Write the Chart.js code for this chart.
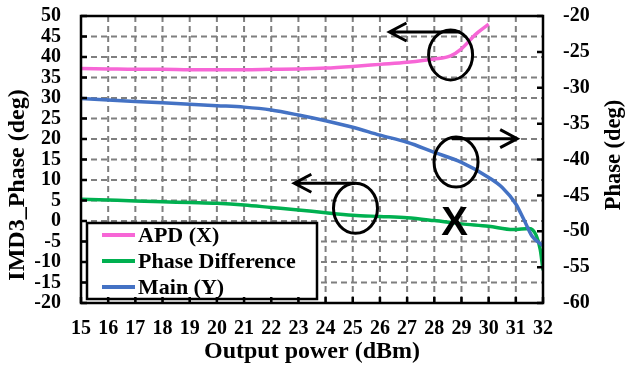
<!DOCTYPE html>
<html lang="en">
<head>
    <meta charset="UTF-8">
    <title>IMD3 Phase vs Output Power</title>
    <script src="https://cdn.jsdelivr.net/npm/chart.js@4.4.0/dist/chart.umd.min.js"></script>
    <style>
        html, body { margin: 0; padding: 0; background: #fff; }
    </style>
</head>
<body>
    <canvas id="chart" width="625" height="369"></canvas>

    <script>
        // x axis: output power (dBm)
        const powerMin = 15;
        const powerMax = 32;

        // APD (X) - left axis
        const apdX = [15, 16, 17, 18, 19, 20, 21, 22, 23, 24, 25, 26, 27, 28, 28.6, 29, 29.5, 30];
        const apdY = [37.2, 37.1, 37.0, 37.0, 36.9, 36.9, 36.9, 37.0, 37.1, 37.3, 37.7, 38.2, 38.7, 39.5, 40.3, 42.0, 45.4, 48.0];

        // Phase Difference - left axis
        const diffX = [15, 16, 17, 18, 19, 20, 21, 22, 23, 24, 25, 26, 27, 28, 29, 30, 30.9, 31.5, 31.75, 31.9, 32];
        const diffY = [5.3, 5.1, 4.9, 4.7, 4.5, 4.3, 3.9, 3.3, 2.7, 2.0, 1.4, 1.1, 0.8, 0.1, -0.7, -1.3, -2.1, -1.8, -3.5, -7.0, -12.0];

        // Main (Y) - right axis
        const mainX = [15, 16, 17, 18, 19, 20, 21, 22, 23, 24, 25, 26, 27, 28, 29, 30, 30.5, 31, 31.3, 31.6, 32];
        const mainY = [-31.5, -31.7, -31.9, -32.1, -32.3, -32.5, -32.7, -33.1, -33.8, -34.6, -35.5, -36.6, -37.6, -39.0, -40.4, -42.5, -43.9, -46.2, -48.4, -50.7, -52.0];

        // axis ranges
        const leftMin = -20, leftMax = 50;
        const rightMin = -60, rightMax = -20;

        // hand drawn marks (data units): circles and arrows
        const ringX = [28.6, 28.8, 25.1];
        const ringY = [40.5, -40.35, 3.1];
        const ringAxis = ['y', 'y2', 'y'];
        const arrowFrom = [28.95, 28.65, 25.1];
        const arrowTo = [26.35, 31.05, 22.85];
        const arrowY = [46.1, -37.1, 9.2];
        const crossX = 28.75, crossY = -0.3;

        const serif = "'Liberation Serif', 'Times New Roman', serif";

        const pts = (xs, ys) => xs.map((v, i) => ({ x: v, y: ys[i] }));

        // dashes drawn by hand (6 on, 4 off)
        function dashLine(ctx, x0, y0, x1, y1) {
            const len = Math.hypot(x1 - x0, y1 - y0);
            const ux = (x1 - x0) / len, uy = (y1 - y0) / len;
            for (let d = 0; d < len; d += 10) {
                const e = Math.min(d + 6, len);
                ctx.moveTo(x0 + ux * d, y0 + uy * d);
                ctx.lineTo(x0 + ux * e, y0 + uy * e);
            }
        }

        const decor = {
            id: 'decor',
            beforeDatasetsDraw(chart) {
                const { ctx, chartArea: a, scales: { x, y } } = chart;
                ctx.save();
                ctx.setLineDash([]);
                ctx.globalAlpha = 1;
                ctx.strokeStyle = '#7f7f7f';
                ctx.lineWidth = 2;
                ctx.beginPath();
                for (let v = powerMin + 1; v < powerMax; v++) {
                    const px = x.getPixelForValue(v);
                    dashLine(ctx, px, a.top, px, a.bottom);
                }
                for (let v = leftMin + 5; v < leftMax; v += 5) {
                    const py = y.getPixelForValue(v);
                    dashLine(ctx, a.left, py, a.right, py);
                }
                ctx.stroke();
                ctx.restore();
            },
            afterDatasetsDraw(chart) {
                const { ctx, chartArea: a, scales } = chart;
                const { x, y, y2 } = scales;
                ctx.save();

                // legend box
                const lx = a.left + 6, ly = a.bottom - 80, lw = 230, lh = 76;
                ctx.fillStyle = '#fff';
                ctx.fillRect(lx, ly, lw, lh);
                ctx.lineWidth = 2.5;
                ctx.strokeStyle = '#000';
                ctx.strokeRect(lx, ly, lw, lh);
                ctx.font = 'bold 22px ' + serif;
                ctx.textBaseline = 'middle';
                ctx.textAlign = 'left';
                chart.data.datasets.forEach((ds, i) => {
                    const ry = ly + 12 + i * 26;
                    ctx.strokeStyle = ds.borderColor;
                    ctx.lineWidth = 4;
                    ctx.beginPath();
                    ctx.moveTo(lx + 15, ry);
                    ctx.lineTo(lx + 48, ry);
                    ctx.stroke();
                    ctx.fillStyle = '#000';
                    ctx.fillText(ds.label, lx + 51, ry + 1);
                });

                // frame
                ctx.strokeStyle = '#000';
                ctx.lineWidth = 2.5;
                ctx.strokeRect(a.left, a.top, a.right - a.left, a.bottom - a.top);

                // inward tick marks
                ctx.beginPath();
                for (let v = leftMin; v <= leftMax; v += 5) {
                    const py = y.getPixelForValue(v);
                    ctx.moveTo(a.left, py); ctx.lineTo(a.left + 6, py);
                }
                for (let v = rightMin; v <= rightMax; v += 5) {
                    const py = y2.getPixelForValue(v);
                    ctx.moveTo(a.right, py); ctx.lineTo(a.right - 6, py);
                }
                for (let v = powerMin; v <= powerMax; v += 1) {
                    const px = x.getPixelForValue(v);
                    ctx.moveTo(px, a.bottom); ctx.lineTo(px, a.bottom - 6);
                }
                ctx.stroke();

                // circles + arrows
                ctx.lineWidth = 3;
                ringX.forEach((rx, i) => {
                    const sc = scales[ringAxis[i]];
                    const cx = x.getPixelForValue(rx), cy = sc.getPixelForValue(ringY[i]);
                    ctx.beginPath();
                    ctx.ellipse(cx, cy, 22, 25, 0, 0, Math.PI * 2);
                    ctx.stroke();
                    const ay = sc.getPixelForValue(arrowY[i]);
                    const x0 = x.getPixelForValue(arrowFrom[i]);
                    const x1 = x.getPixelForValue(arrowTo[i]);
                    const dir = x1 > x0 ? -1 : 1;
                    ctx.beginPath();
                    ctx.moveTo(x0, ay); ctx.lineTo(x1, ay);
                    ctx.moveTo(x1 + dir * 17, ay - 9); ctx.lineTo(x1, ay); ctx.lineTo(x1 + dir * 17, ay + 9);
                    ctx.stroke();
                });

                // X mark
                ctx.fillStyle = '#000';
                ctx.font = 'bold 40px "Liberation Sans", Arial, sans-serif';
                ctx.textAlign = 'center';
                ctx.textBaseline = 'middle';
                ctx.fillText('X', x.getPixelForValue(crossX), y.getPixelForValue(crossY) + 2);

                // vertical axis titles
                ctx.font = 'bold 24px ' + serif;
                ctx.save();
                ctx.translate(18, 185);
                ctx.rotate(-Math.PI / 2);
                ctx.fillText('IMD3_Phase (deg)', 0, 0);
                ctx.restore();
                ctx.font = 'bold 22.5px ' + serif;
                ctx.save();
                ctx.translate(614, 155);
                ctx.rotate(-Math.PI / 2);
                ctx.fillText('Phase (deg)', 0, 0);
                ctx.restore();

                ctx.restore();
            }
        };

        const tickFont = { family: serif, size: 20, weight: 'bold', lineHeight: 1 };
        const noPad = (s) => { s.paddingTop = 0; s.paddingBottom = 0; s.paddingLeft = 0; s.paddingRight = 0; };

        new Chart(document.getElementById('chart'), {
            type: 'line',
            data: {
                datasets: [
                    {
                        label: 'APD (X)',
                        data: pts(apdX, apdY),
                        borderColor: '#f766d6',
                        borderWidth: 3.5,
                        yAxisID: 'y',
                        order: 3
                    },
                    {
                        label: 'Phase Difference',
                        data: pts(diffX, diffY),
                        borderColor: '#00b050',
                        borderWidth: 3.5,
                        yAxisID: 'y',
                        order: 2
                    },
                    {
                        label: 'Main (Y)',
                        data: pts(mainX, mainY),
                        borderColor: '#4472c4',
                        borderWidth: 3.5,
                        yAxisID: 'y2',
                        order: 1
                    }
                ]
            },
            options: {
                responsive: false,
                animation: false,
                events: [],
                layout: { padding: { top: 16, left: 0, right: 0, bottom: 0 } },
                elements: {
                    point: { radius: 0 },
                    line: { cubicInterpolationMode: 'monotone', fill: false }
                },
                plugins: {
                    legend: { display: false },
                    tooltip: { enabled: false }
                },
                scales: {
                    x: {
                        type: 'linear',
                        min: powerMin,
                        max: powerMax,
                        grid: { display: false, drawTicks: false },
                        border: { display: false },
                        ticks: { stepSize: 1, autoSkip: false, maxRotation: 0, color: '#000', font: tickFont, padding: 16 },
                        title: {
                            display: true,
                            text: 'Output power (dBm)',
                            color: '#000',
                            font: { family: serif, size: 24, weight: 'bold', lineHeight: 1 },
                            padding: { top: 0, bottom: 5 }
                        },
                        afterFit(s) { noPad(s); s.height = 66; }
                    },
                    y: {
                        position: 'left',
                        min: leftMin,
                        max: leftMax,
                        grid: { display: false, drawTicks: false },
                        border: { display: false },
                        ticks: { stepSize: 5, autoSkip: false, color: '#000', font: tickFont, padding: 20 },
                        afterFit(s) { noPad(s); s.width = 81; }
                    },
                    y2: {
                        position: 'right',
                        min: rightMin,
                        max: rightMax,
                        grid: { display: false, drawTicks: false },
                        border: { display: false },
                        ticks: { stepSize: 5, autoSkip: false, color: '#000', font: tickFont, padding: 20 },
                        afterFit(s) { noPad(s); s.width = 82; }
                    }
                }
            },
            plugins: [decor]
        });
    </script>
</body>
</html>
